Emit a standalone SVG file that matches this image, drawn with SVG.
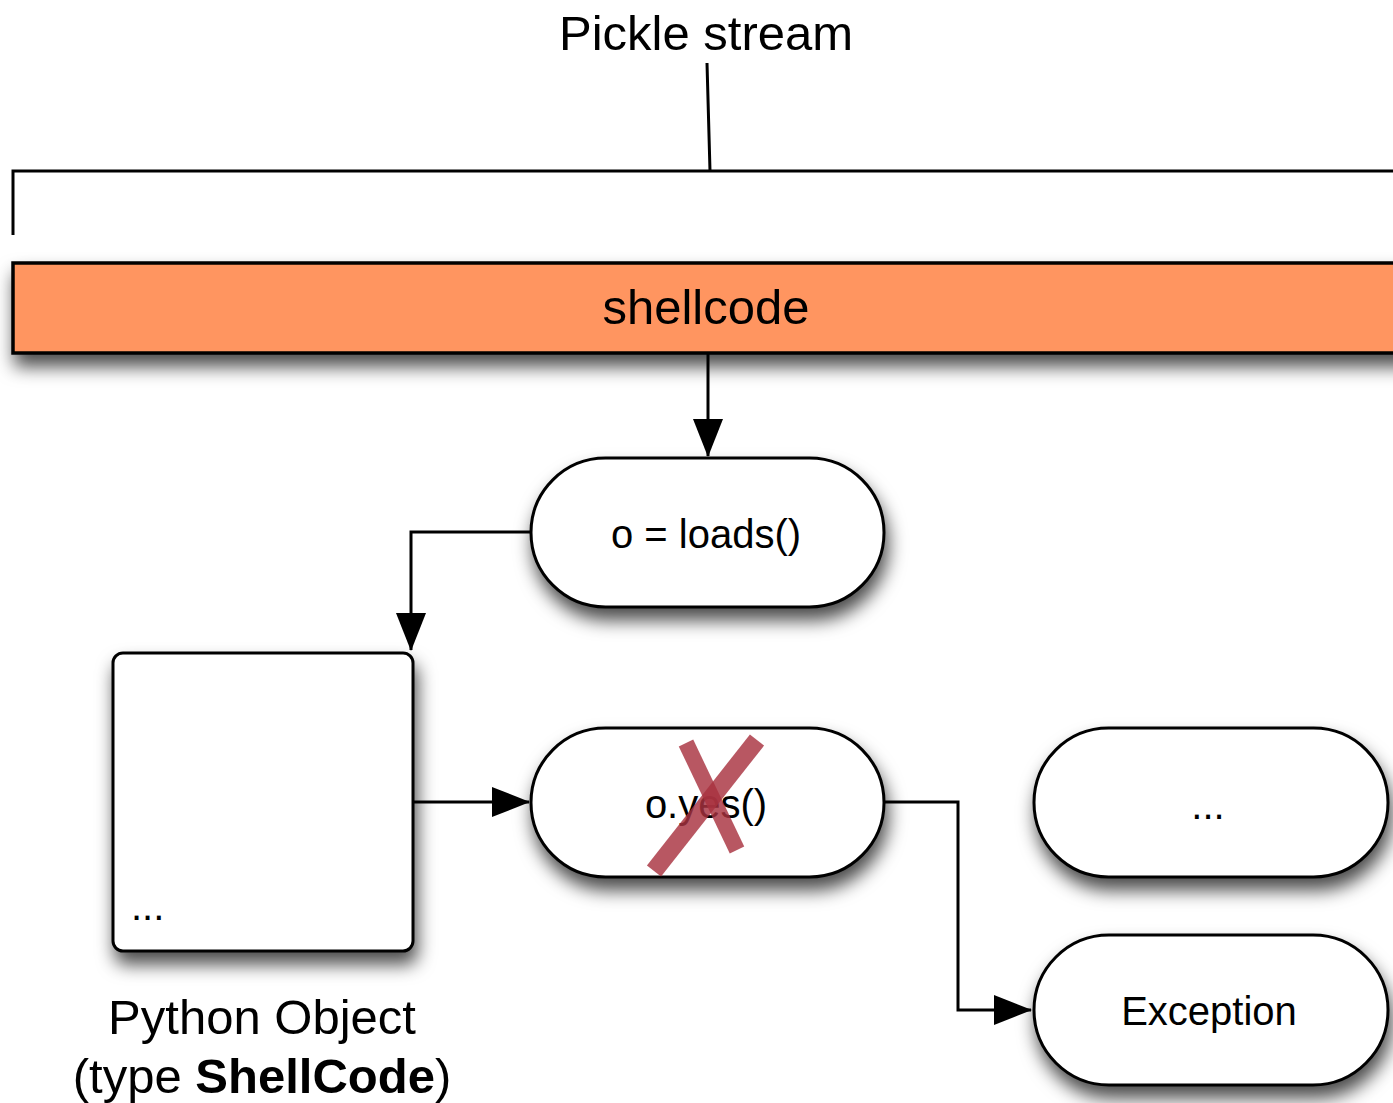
<svg xmlns="http://www.w3.org/2000/svg" width="1393" height="1103" viewBox="0 0 1393 1103">
  <style>
    text { font-family: "Liberation Sans", Arial, Helvetica, sans-serif; fill: #000; }
    .big { font-size: 49px; }
    .mid { font-size: 40px; }
    .node { fill: #fff; stroke: #000; stroke-width: 3; filter: url(#shadow); }
    .wire { fill: none; stroke: #000; stroke-width: 3; }
    .cross { fill: none; stroke: #a8323f; stroke-opacity: 0.82; stroke-linecap: butt; }
  </style>
  <defs>
    <filter id="shadow" x="-10%" y="-20%" width="125%" height="170%">
      <feDropShadow dx="3" dy="12" stdDeviation="9" flood-color="#000" flood-opacity="0.7"/>
    </filter>
    <marker id="arrow" viewBox="0 0 38 30" markerWidth="38" markerHeight="30" refX="37" refY="15" orient="auto" markerUnits="userSpaceOnUse">
      <path d="M0,0 L38,15 L0,30 Z" fill="#000"/>
    </marker>
  </defs>

  <rect width="1393" height="1103" fill="#fff"/>

  <!-- stream bracket and its label -->
  <g id="pickle-stream">
    <text class="big" x="706" y="50" text-anchor="middle">Pickle stream</text>
    <path class="wire" d="M707,63 L710,171 M13,235 L13,171 L1400,171"/>
  </g>

  <!-- payload bar -->
  <g id="shellcode">
    <rect x="13" y="263" width="1400" height="90" fill="#ff9561" stroke="#000" stroke-width="3.5" filter="url(#shadow)"/>
    <text class="big" x="706" y="324" text-anchor="middle">shellcode</text>
  </g>

  <g id="loads">
    <rect class="node" x="531" y="458" width="353" height="149" rx="74.5"/>
    <text class="mid" x="706" y="548" text-anchor="middle">o = loads()</text>
  </g>

  <g id="python-object">
    <rect class="node" x="113" y="653" width="300" height="298" rx="10"/>
    <text class="mid" x="131" y="920">...</text>
    <text class="big" x="262" y="1034" text-anchor="middle">Python Object</text>
    <text class="big" x="262" y="1093" text-anchor="middle">(type <tspan font-weight="bold">ShellCode</tspan>)</text>
  </g>

  <g id="yes">
    <rect class="node" x="531" y="728" width="353" height="149" rx="74.5"/>
    <text class="mid" x="706" y="818" text-anchor="middle">o.yes()</text>
    <!-- strike-through mark -->
    <path class="cross" stroke-width="16" d="M686,743 L737,850"/>
    <path class="cross" stroke-width="18" d="M757,740 L654,871"/>
  </g>

  <g id="other">
    <rect class="node" x="1034" y="728" width="354" height="149" rx="74.5"/>
    <text class="mid" x="1208" y="819" text-anchor="middle">...</text>
  </g>

  <g id="exception">
    <rect class="node" x="1034" y="935" width="354" height="150" rx="75"/>
    <text class="mid" x="1209" y="1025" text-anchor="middle">Exception</text>
  </g>

  <!-- connectors -->
  <g id="connectors">
    <path class="wire" d="M708,354 L708,456" marker-end="url(#arrow)"/>
    <path class="wire" d="M531,532 L411,532 L411,650" marker-end="url(#arrow)"/>
    <path class="wire" d="M414,802 L529,802" marker-end="url(#arrow)"/>
    <path class="wire" d="M885,802 L958,802 L958,1010 L1031,1010" marker-end="url(#arrow)"/>
  </g>
</svg>
